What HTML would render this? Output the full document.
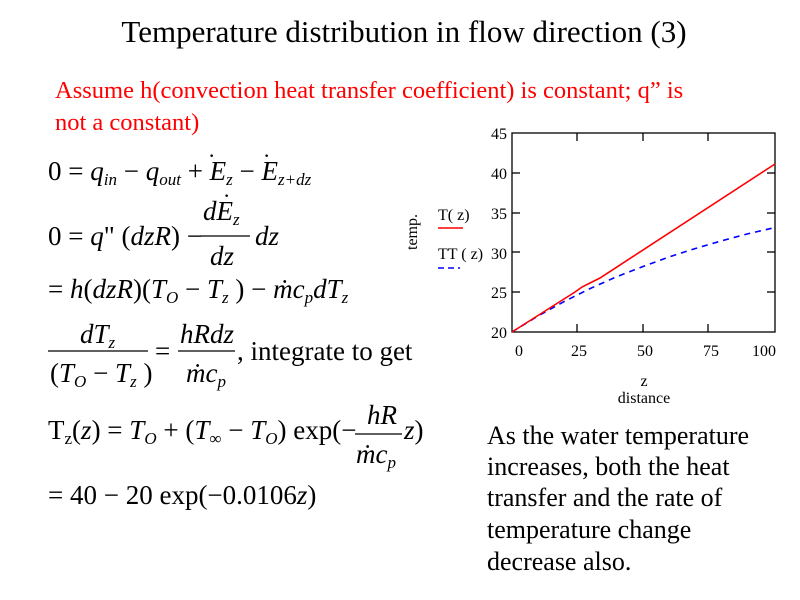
<!DOCTYPE html>
<html><head><meta charset="utf-8"><style>
html,body{margin:0;padding:0;background:#fff;}
svg{display:block;}
text{font-family:"Liberation Serif",serif;}
.i{font-style:italic;}
</style></head><body>
<svg width="800" height="600" viewBox="0 0 800 600">
<text x="404" y="42" font-size="31" text-anchor="middle">Temperature distribution in flow direction (3)</text>
<text x="55" y="98" font-size="24.5" fill="#ff0000">Assume h(convection heat transfer coefficient) is constant; q” is</text>
<text x="55" y="130" font-size="24.5" fill="#ff0000">not a constant)</text>

<g font-size="27">
<!-- eq 1 -->
<text x="48" y="180">0 = <tspan class="i">q</tspan><tspan class="i" font-size="17" dy="5">in</tspan><tspan dy="-5"> − </tspan><tspan class="i">q</tspan><tspan class="i" font-size="17" dy="5">out</tspan><tspan dy="-5"> + </tspan><tspan class="i">E</tspan><tspan class="i" font-size="17" dy="5">z</tspan><tspan dy="-5"> − </tspan><tspan class="i">E</tspan><tspan class="i" font-size="17" dy="5">z+dz</tspan></text>
<text x="208" y="163" font-size="22">·</text><text x="263" y="163" font-size="22">·</text>
<!-- eq 2 -->
<text x="48" y="245">0 = <tspan class="i">q</tspan>" (<tspan class="i">dzR</tspan>) −</text>
<text x="203" y="220" class="i">dE<tspan font-size="17" dy="5">z</tspan></text>
<text x="223" y="203" font-size="22">·</text>
<line x1="200" y1="236" x2="250" y2="236" stroke="#000" stroke-width="1.3"/>
<text x="210" y="265" class="i">dz</text>
<text x="255" y="245" class="i">dz</text>
<!-- eq 3 -->
<text x="48" y="298">= <tspan class="i">h</tspan>(<tspan class="i">dzR</tspan>)(<tspan class="i">T</tspan><tspan class="i" font-size="17" dy="5">O</tspan><tspan dy="-5"> − </tspan><tspan class="i">T</tspan><tspan class="i" font-size="17" dy="5">z</tspan><tspan dy="-5"> ) − </tspan><tspan class="i">ṁc</tspan><tspan class="i" font-size="17" dy="5">p</tspan><tspan class="i" dy="-5">dT</tspan><tspan class="i" font-size="17" dy="5">z</tspan></text>
<!-- eq 4 -->
<text x="80" y="343" class="i">dT<tspan font-size="17" dy="5">z</tspan></text>
<line x1="48" y1="351" x2="148" y2="351" stroke="#000" stroke-width="1.3"/>
<text x="50" y="382">(<tspan class="i">T</tspan><tspan class="i" font-size="17" dy="5">O</tspan><tspan dy="-5"> − </tspan><tspan class="i">T</tspan><tspan class="i" font-size="17" dy="5">z</tspan><tspan dy="-5"> )</tspan></text>
<text x="155" y="360">=</text>
<text x="180" y="343" class="i">hRdz</text>
<line x1="178" y1="351" x2="235" y2="351" stroke="#000" stroke-width="1.3"/>
<text x="186" y="382" class="i">ṁc<tspan font-size="17" dy="5">p</tspan></text>
<text x="237" y="360">, integrate to get</text>
<!-- eq 5 -->
<text x="48" y="439">T<tspan font-size="17" dy="5">z</tspan><tspan dy="-5">(</tspan><tspan class="i">z</tspan>) = <tspan class="i">T</tspan><tspan class="i" font-size="17" dy="5">O</tspan><tspan dy="-5"> + (</tspan><tspan class="i">T</tspan><tspan font-size="17" dy="5">∞</tspan><tspan dy="-5"> − </tspan><tspan class="i">T</tspan><tspan class="i" font-size="17" dy="5">O</tspan><tspan dy="-5">) exp(−</tspan></text>
<text x="367" y="424" class="i">hR</text>
<line x1="355" y1="434" x2="402" y2="434" stroke="#000" stroke-width="1.3"/>
<text x="356" y="463" class="i">ṁc<tspan font-size="17" dy="5">p</tspan></text>
<text x="404" y="439"><tspan class="i">z</tspan>)</text>
<!-- eq 6 -->
<text x="48" y="504">= 40 − 20 exp(−0.0106<tspan class="i">z</tspan>)</text>
</g>

<!-- chart -->
<rect x="512" y="133" width="263" height="199" fill="none" stroke="#000" stroke-width="1.3"/>
<g stroke="#000" stroke-width="1.3">
<line x1="577" y1="133" x2="577" y2="141"/><line x1="577" y1="332" x2="577" y2="324"/>
<line x1="643" y1="133" x2="643" y2="141"/><line x1="643" y1="332" x2="643" y2="324"/>
<line x1="708" y1="133" x2="708" y2="141"/><line x1="708" y1="332" x2="708" y2="324"/>
<line x1="512" y1="173" x2="520" y2="173"/><line x1="775" y1="173" x2="767" y2="173"/>
<line x1="512" y1="213" x2="520" y2="213"/><line x1="775" y1="213" x2="767" y2="213"/>
<line x1="512" y1="252" x2="520" y2="252"/><line x1="775" y1="252" x2="767" y2="252"/>
<line x1="512" y1="292" x2="520" y2="292"/><line x1="775" y1="292" x2="767" y2="292"/>
</g>
<g font-size="16" text-anchor="end">
<text x="507" y="139">45</text><text x="507" y="179">40</text><text x="507" y="219">35</text>
<text x="507" y="259">30</text><text x="507" y="298">25</text><text x="507" y="338">20</text>
</g>
<g font-size="16" text-anchor="middle">
<text x="519" y="356">0</text><text x="579" y="356">25</text><text x="645" y="356">50</text>
<text x="711" y="356">75</text><text x="764" y="356">100</text>
<text x="644" y="386">z</text><text x="644" y="403">distance</text>
</g>
<text transform="translate(417,232) rotate(-90)" font-size="16" text-anchor="middle">temp.</text>
<text x="438" y="220" font-size="16">T( z)</text>
<line x1="438" y1="228" x2="463" y2="228" stroke="#ff0000" stroke-width="1.5"/>
<text x="438" y="259" font-size="16">TT ( z)</text>
<line x1="438" y1="268" x2="460" y2="268" stroke="#0000ff" stroke-width="1.5" stroke-dasharray="6,4"/>
<polyline fill="none" stroke="#0000ff" stroke-width="1.6" stroke-dasharray="6,5" points="512,332 538,316 564,301.6 590,288.6 616,277 643,266.5 669,257 695,248.6 721,241 747,234 773,228"/>
<polyline fill="none" stroke="#ff0000" stroke-width="1.6" points="512,332 575,292 582,287 600,278 775,164"/>

<g font-size="26">
<text x="487" y="444">As the water temperature</text>
<text x="487" y="475">increases, both the heat</text>
<text x="487" y="506">transfer and the rate of</text>
<text x="487" y="538">temperature change</text>
<text x="487" y="570">decrease also.</text>
</g>
</svg>
</body></html>
